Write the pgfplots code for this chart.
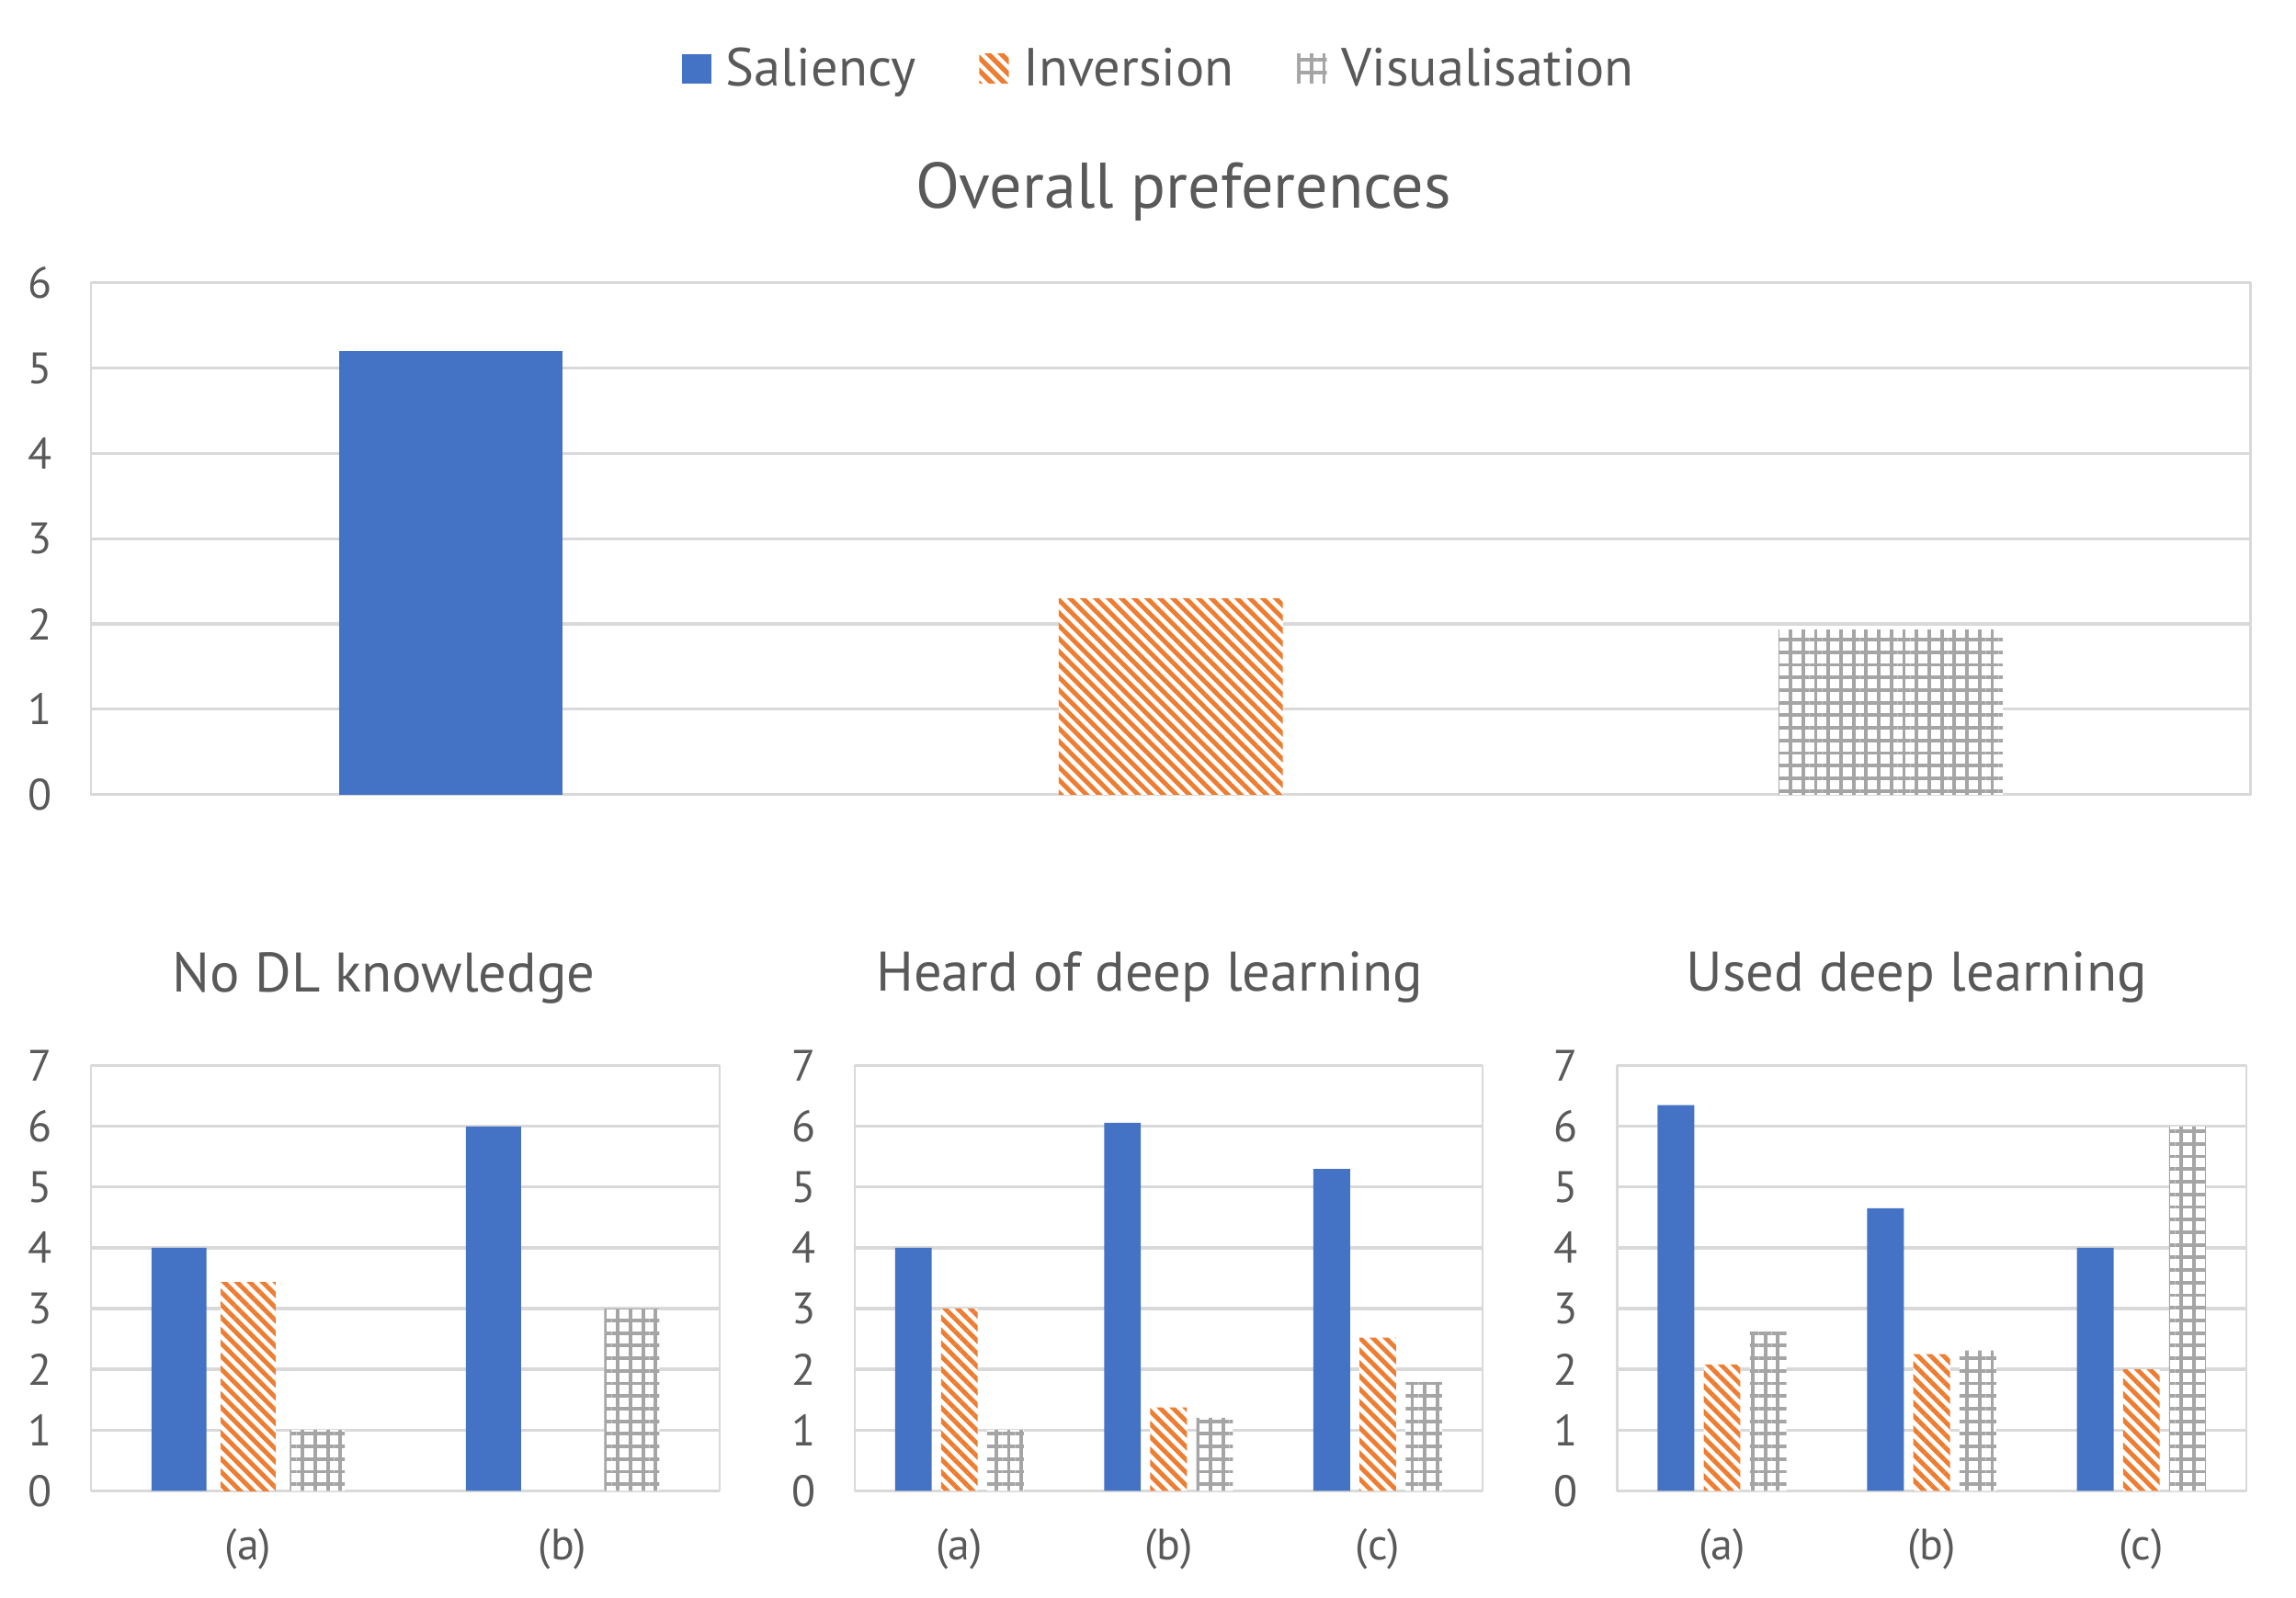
\documentclass[border=0pt]{standalone}
\usepackage{fontspec}
\setmainfont{PT Sans}
\usepackage{pgfplots}
\pgfplotsset{compat=1.18}
\usetikzlibrary{patterns.meta}
\definecolor{cblue}{HTML}{4472C4}
\definecolor{corange}{HTML}{ED7D31}
\definecolor{cgray}{HTML}{A5A5A5}
\definecolor{cgrid}{HTML}{D9D9D9}
\definecolor{ctext}{HTML}{595959}
\pgfplotsset{
  base/.style={
    scale only axis, anchor=south west,
    ybar, ymin=0,
    axis line style={cgrid, line width=0.7pt},
    ymajorgrids, grid style={cgrid, line width=1pt},
    major tick length=0pt,
    ytick style={draw=none}, xtick style={draw=none},
    tick label style={font=\fontsize{15}{15}\selectfont, text=ctext},
    /pgf/number format/assume math mode=true,
    yticklabel style={anchor=center, xshift=-17.5pt},
    xticklabel style={anchor=center, yshift=-20pt},
    title style={font=\fontsize{19}{19}\selectfont, text=ctext, anchor=center},
  },
  sal/.style={fill=cblue, draw=none,
    legend image code/.code={\path[fill=cblue] (0pt,-5pt) rectangle (10pt,5pt);}},
  inv/.style={fill=white, draw=none,
    postaction={pattern={Lines[angle=-45,distance=3.1pt,line width=1.55pt]}, pattern color=corange},
    legend image code/.code={\path[pattern={Lines[angle=-45,distance=3.1pt,line width=1.55pt]}, pattern color=corange] (0pt,-5pt) rectangle (10pt,5pt);}},
  vis/.style={fill=white, draw=none,
    postaction={pattern={Hatch[distance=4.3pt,line width=1.2pt]}, pattern color=cgray},
    legend image code/.code={\path[pattern={Hatch[distance=4.3pt,line width=1.2pt]}, pattern color=cgray] (0pt,-5pt) rectangle (10pt,5pt);}},
}
\begin{document}
\begin{tikzpicture}
\useasboundingbox (0,0) rectangle (783pt,545pt);
% Top panel
\begin{axis}[base, at={(31pt,274pt)}, width=736.5pt, height=174.5pt,
  ymax=6, ytick={0,1,...,6}, xmin=-1.5, xmax=1.5, xtick=\empty,
  bar width=0.311,
  title={Overall preferences}, title style={at={(0.506,1)}, yshift=25pt, font=\fontsize{22}{22}\selectfont},
  legend style={at={(0.4955,1)}, anchor=center, yshift=73pt, draw=none, fill=none,
    legend columns=3, font=\fontsize{18.3}{18.3}\selectfont, text=ctext,
    /tikz/every odd column/.append style={column sep=3pt},
    /tikz/every even column/.append style={column sep=19.5pt}},
]
\addplot[sal, bar shift=0] coordinates {(-1,5.2)};
\addplot[inv, bar shift=0] coordinates {(0,2.3)};
\addplot[vis, bar shift=0] coordinates {(1,1.93)};
\legend{Saliency, Inversion, Visualisation}
\end{axis}
% Panel 1
\begin{axis}[base, at={(31pt,36.5pt)}, width=214.5pt, height=145pt,
  ymax=7, ytick={0,1,...,7}, xmin=-0.5, xmax=1.5, xtick={0,1}, xticklabels={(a),(b)},
  bar width=0.175,
  title={No DL knowledge}, title style={at={(0.466,1)}, yshift=24pt}]
\addplot[sal, bar shift=-0.22] coordinates {(0,4) (1,6)};
\addplot[inv, bar shift=0] coordinates {(0,3.43)};
\addplot[vis, bar shift=0.22] coordinates {(0,1) (1,3)};
\end{axis}
% Panel 2
\begin{axis}[base, at={(291.5pt,36.5pt)}, width=214pt, height=145pt,
  ymax=7, ytick={0,1,...,7}, xmin=-0.5, xmax=2.5, xtick={0,1,2}, xticklabels={(a),(b),(c)},
  bar width=0.175,
  title={Heard of deep learning}, title style={at={(0.47,1)}, yshift=24pt}]
\addplot[sal, bar shift=-0.22] coordinates {(0,4) (1,6.06) (2,5.3)};
\addplot[inv, bar shift=0] coordinates {(0,3) (1,1.37) (2,2.52)};
\addplot[vis, bar shift=0.22] coordinates {(0,1) (1,1.2) (2,1.79)};
\end{axis}
% Panel 3
\begin{axis}[base, at={(551.5pt,36.5pt)}, width=214.5pt, height=145pt,
  ymax=7, ytick={0,1,...,7}, xmin=-0.5, xmax=2.5, xtick={0,1,2}, xticklabels={(a),(b),(c)},
  bar width=0.175,
  title={Used deep learning}, title style={at={(0.476,1)}, yshift=24pt}]
\addplot[sal, bar shift=-0.22] coordinates {(0,6.35) (1,4.65) (2,4)};
\addplot[inv, bar shift=0] coordinates {(0,2.08) (1,2.25) (2,2)};
\addplot[vis, bar shift=0.22] coordinates {(0,2.62) (1,2.31) (2,6)};
\end{axis}
\end{tikzpicture}
\end{document}
